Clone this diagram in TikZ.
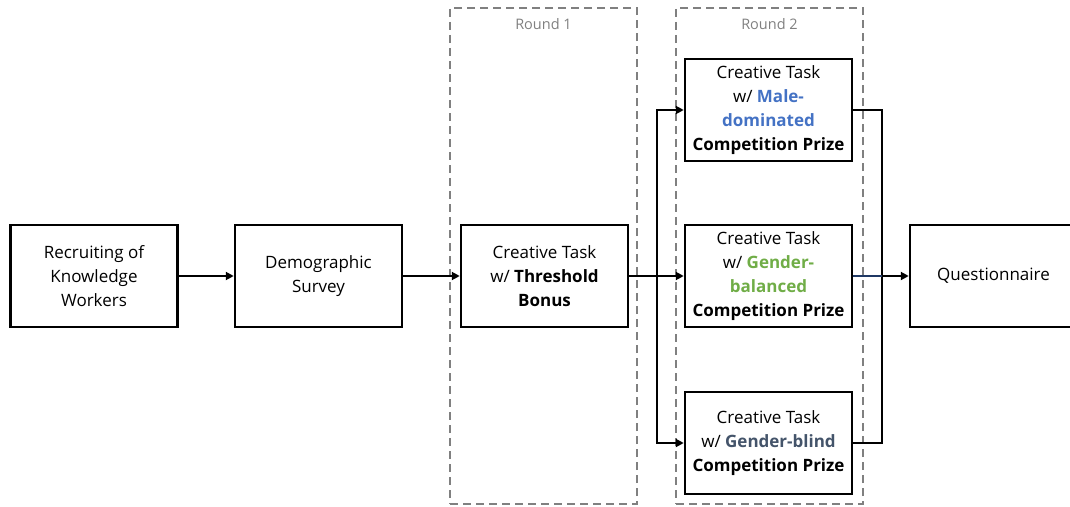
\documentclass[tikz,border=0pt]{standalone}
\usepackage{fontspec}
\setmainfont{Open Sans}
\usetikzlibrary{arrows.meta}
\definecolor{maleblue}{HTML}{4472C4}
\definecolor{balgreen}{HTML}{70AD47}
\definecolor{blindslate}{HTML}{44546A}
\definecolor{roundgray}{HTML}{808080}
\definecolor{linkblue}{HTML}{1F3864}
\tikzset{
  stepbox/.style={draw=black, line width=2.5pt, minimum width=167pt, minimum height=102pt, align=center, inner sep=2pt, font=\fontsize{17}{24}\selectfont},
  roundframe/.style={draw=roundgray, line width=1.3pt, dash pattern=on 8pt off 5pt},
  roundlabel/.style={text=roundgray, font=\fontsize{14.5}{16}\selectfont},
  link/.style={line width=2.3pt, -{Triangle[length=8pt,width=8pt]}},
  plain/.style={line width=2.3pt}
}
\begin{document}
\begin{tikzpicture}[x=1pt,y=-1pt]
\useasboundingbox (0,0) rectangle (1070,506);
\begin{scope}
\clip (0,0) rectangle (1070,506);
% round frames
\node[roundframe, minimum width=187pt, minimum height=496pt, inner sep=0pt] (r1) at (543.5,256) {};
\node[roundframe, minimum width=187pt, minimum height=496pt, inner sep=0pt] (r2) at (769.5,256) {};
\node[roundlabel] (r1l) at (543.5,24) {Round 1};
\node[roundlabel] (r2l) at (769.5,24) {Round 2};
% boxes
\node[stepbox] (rec) at (94,276) {Recruiting of\\Knowledge\\Workers};
\node[stepbox] (dem) at (318.5,276) {Demographic\\Survey};
\node[stepbox] (thr) at (544.5,276) {Creative Task\\w/ \textbf{Threshold}\\\textbf{Bonus}};
\node[stepbox] (male) at (768.5,110) {Creative Task\\w/ \textbf{\textcolor{maleblue}{Male-}}\\\textbf{\textcolor{maleblue}{dominated}}\\\textbf{Competition Prize}};
\node[stepbox] (bal) at (768.5,276) {Creative Task\\w/ \textbf{\textcolor{balgreen}{Gender-}}\\\textbf{\textcolor{balgreen}{balanced}}\\\textbf{Competition Prize}};
\node[stepbox] (blind) at (768.5,443) {Creative Task\\w/ \textbf{\textcolor{blindslate}{Gender-blind}}\\\textbf{Competition Prize}};
\node[stepbox] (q) at (993.5,276) {Questionnaire};
% connectors
\coordinate (br) at (657,276);
\coordinate (mg) at (882,276);
\draw[link] (rec) -- (dem);
\draw[link] (dem) -- (thr);
\draw[link] (thr) -- (bal);
\draw[link] (br) |- (male.west);
\draw[link] (br) |- (blind.west);
\draw[plain] (male.east) -| (mg) |- (blind.east);
\draw[line width=2.3pt, draw=linkblue] (bal.east) -- (mg);
\draw[link] (mg) -- (q);
\end{scope}
\end{tikzpicture}
\end{document}
